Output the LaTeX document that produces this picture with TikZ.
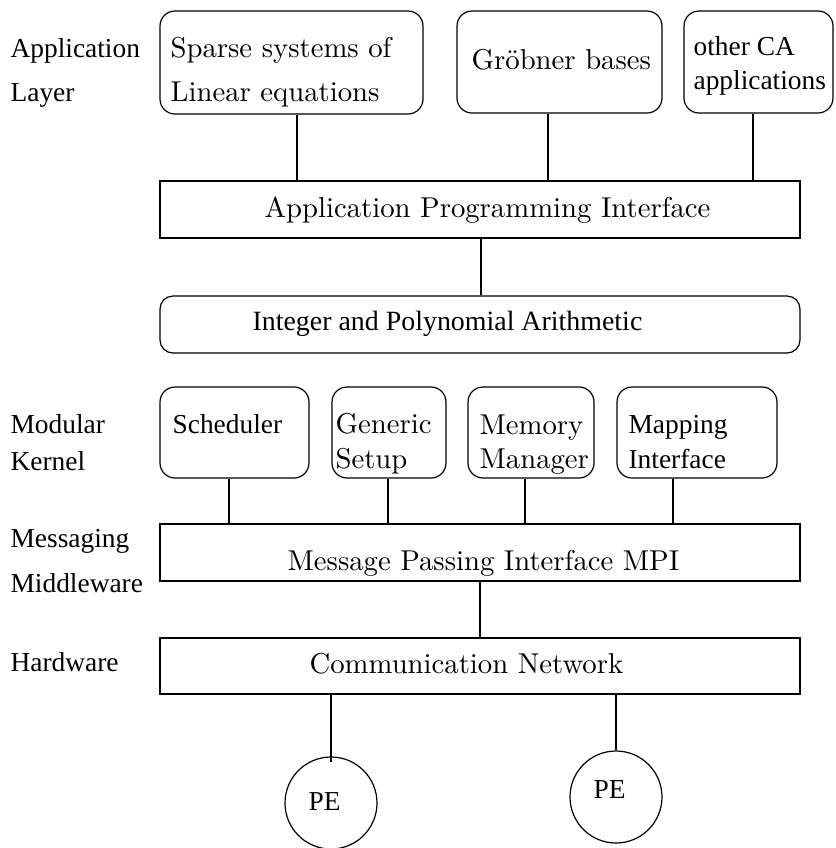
\documentclass[tikz,border=0pt]{standalone}
\usepackage{fontspec}
\newfontfamily\lmten{lmroman10-regular}[Extension=.otf]
\newfontfamily\tms{Liberation Serif}
\usetikzlibrary{fit,calc}
\begin{document}
\begin{tikzpicture}[x=0.5pt,y=-0.5pt,line width=0.6pt,
  box/.style={draw,inner sep=0pt},
  rbox/.style={box,rounded corners=7.5pt},
  pe/.style={draw,circle,inner sep=0pt,minimum size=46pt},
  lmtxt/.style={font=\lmten\fontsize{14.36}{17}\selectfont,inner sep=0pt,anchor=base west},
  tmtxt/.style={font=\tms\fontsize{13.7}{16}\selectfont,inner sep=0pt,anchor=base west}]
\useasboundingbox (0,0) rectangle (836,848);

% layer names
\node[tmtxt] (l1a) at (10,57)  {Application};
\node[tmtxt] (l1b) at (10,101) {Layer};
\node[tmtxt] (l2a) at (10,433) {Modular};
\node[tmtxt] (l2b) at (10,470) {Kernel};
\node[tmtxt] (l3a) at (10,547) {Messaging};
\node[tmtxt] (l3b) at (10,592) {Middleware};
\node[tmtxt] (l4)  at (10,671) {Hardware};

% application layer
\node[rbox,fit={(160,11) (423,114)}] (sparse) {};
\node[rbox,fit={(457,11) (662,113)}] (groebner) {};
\node[rbox,fit={(684,11) (833,113)}] (otherca) {};
\node[lmtxt] (t1a) at (170,57)  {Sparse systems of};
\node[lmtxt] (t1b) at (170,101) {Linear equations};
\node[lmtxt] (t2)  at (471,69)  {Gröbner bases};
\node[tmtxt] (t3a) at (693,55)  {other CA};
\node[tmtxt] (t3b) at (693,89)  {applications};

\node[box,fit={(160,181) (800,238)}] (api) {};
\node[lmtxt] (tapi) at (264,217) {Application Programming Interface};

\node[box,rounded corners=6.5pt,fit={(160,296) (800,353)}] (ipa) {};
\node[tmtxt,font=\tms\fontsize{13.95}{16}\selectfont] (tipa) at (252,330) {Integer and Polynomial Arithmetic};

% modular kernel
\node[rbox,fit={(160,387) (309,478)}] (sched) {};
\node[rbox,fit={(332,387) (446,478)}] (generic) {};
\node[rbox,fit={(468,387) (594,478)}] (memory) {};
\node[rbox,fit={(617,387) (777,478)}] (mapping) {};
\node[tmtxt] (ts)   at (172,433) {Scheduler};
\node[lmtxt] (tga)  at (335,433) {Generic};
\node[lmtxt] (tgb)  at (335,468) {Setup};
\node[lmtxt] (tma)  at (479,434) {Memory};
\node[lmtxt] (tmb)  at (479,468) {Manager};
\node[tmtxt] (tpa)  at (628,433) {Mapping};
\node[tmtxt] (tpb)  at (628,468) {Interface};

% middleware and hardware
\node[box,fit={(160,524) (800,581)}] (mpi) {};
\node[lmtxt] (tmpi) at (287,570) {Message Passing Interface MPI};
\node[box,fit={(160,638) (800,694)}] (comm) {};
\node[lmtxt] (tcomm) at (309,673) {Communication Network};

\node[pe] (pe1) at (331,803) {};
\node[pe] (pe2) at (616,797) {};
\node[tmtxt] (tpe1) at (308,810) {PE};
\node[tmtxt] (tpe2) at (593,798) {PE};

% connectors
\draw ($(sparse.south)+(5.5,0)$) coordinate (c1) -- (c1 |- api.north);
\draw ($(groebner.south)+(-11.5,0)$) coordinate (c2) -- (c2 |- api.north);
\draw ($(otherca.south)+(-5.5,0)$) coordinate (c3) -- (c3 |- api.north);
\draw ($(api.south)+(1,0)$) coordinate (c4) -- (c4 |- ipa.north);
\draw ($(sched.south)+(-5.5,0)$) coordinate (c5) -- (c5 |- mpi.north);
\draw ($(generic.south)+(-1,0)$) coordinate (c6) -- (c6 |- mpi.north);
\draw ($(memory.south)+(-6,0)$) coordinate (c7) -- (c7 |- mpi.north);
\draw ($(mapping.south)+(-24,0)$) coordinate (c8) -- (c8 |- mpi.north);
\draw (mpi.south) -- (mpi.south |- comm.north);
\draw (pe1.north |- comm.south) -- ($(pe1.north)+(0,6)$);
\draw (pe2.north |- comm.south) -- (pe2.north);
\end{tikzpicture}
\end{document}
